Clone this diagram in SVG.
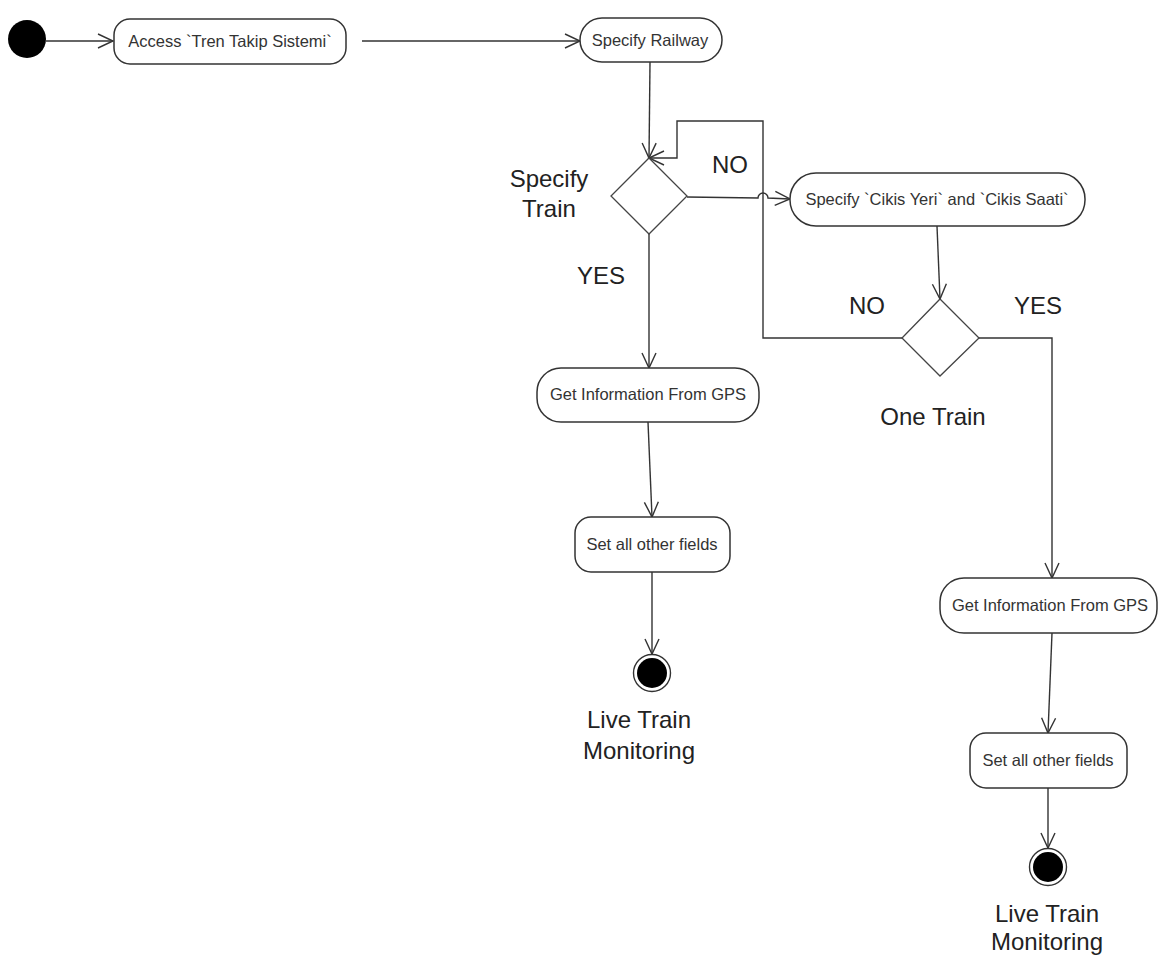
<svg xmlns="http://www.w3.org/2000/svg" width="1158" height="958" viewBox="0 0 1158 958">
<style>
.node{fill:#fff;stroke:#333;stroke-width:1.5}
.dia{fill:#fff;stroke:#444;stroke-width:1.3}
.t{font-family:"Liberation Sans",Arial,sans-serif;font-size:16.5px;fill:#333;text-anchor:middle}
.l{font-family:"Liberation Sans",Arial,sans-serif;font-size:24px;fill:#222;text-anchor:middle}
.c{fill:none;stroke:#333;stroke-width:1.4}
</style>
<defs>
<marker id="a" markerUnits="userSpaceOnUse" markerWidth="18" markerHeight="18" viewBox="0 0 18 18" refX="16" refY="9" orient="auto">
<path d="M1,2 L16,9 L1,16" fill="none" stroke="#333" stroke-width="1.4"/>
</marker>
</defs>
<rect width="1158" height="958" fill="#fff"/>
<g id="connectors">
<path class="c" d="M46,41 L113,41" marker-end="url(#a)"/>
<path class="c" d="M362,41 L580,41" marker-end="url(#a)"/>
<path class="c" d="M650,62 L649,158" marker-end="url(#a)"/>
<path class="c" d="M902,338 L763,338 L763,121 L677,121 L677,158 L649,158" marker-end="url(#a)"/>
<path class="c" d="M687,197 L758,198 A5,5 0 0 1 768,198 L790,199" marker-end="url(#a)"/>
<path class="c" d="M937,226 L940,299" marker-end="url(#a)"/>
<path class="c" d="M979,338 L1052,338 L1052,578" marker-end="url(#a)"/>
<path class="c" d="M649,234 L649,368" marker-end="url(#a)"/>
<path class="c" d="M648,422 L652,517" marker-end="url(#a)"/>
<path class="c" d="M652,572 L652,654" marker-end="url(#a)"/>
<path class="c" d="M1052,633 L1048,733" marker-end="url(#a)"/>
<path class="c" d="M1048,788 L1048,848" marker-end="url(#a)"/>
</g>
<g id="start"><circle cx="27" cy="39" r="19" fill="#000"/></g>
<g id="access"><rect class="node" x="114" y="19" width="232" height="45" rx="16"/><text class="t" x="230" y="47">Access `Tren Takip Sistemi`</text></g>
<g id="railway"><rect class="node" x="580" y="18" width="142" height="44" rx="22"/><text class="t" x="650" y="46">Specify Railway</text></g>
<g id="specifyTrain"><polygon class="dia" points="649,158 687,196 649,234 611,196"/><text class="l" x="549" y="187">Specify</text><text class="l" x="549" y="217">Train</text></g>
<g id="cikis"><rect class="node" x="790" y="173" width="295" height="53" rx="26"/><text class="t" x="937" y="205">Specify `Cikis Yeri` and `Cikis Saati`</text></g>
<g id="oneTrain"><polygon class="dia" points="940,299 979,338 940,376 902,338"/><text class="l" x="933" y="425">One Train</text></g>
<g id="gps1"><rect class="node" x="537" y="368" width="222" height="54" rx="24"/><text class="t" x="648" y="400">Get Information From GPS</text></g>
<g id="set1"><rect class="node" x="575" y="517" width="155" height="55" rx="16"/><text class="t" x="652" y="550">Set all other fields</text></g>
<g id="end1"><circle cx="652" cy="673" r="18.5" fill="#fff" stroke="#333" stroke-width="1.4"/><circle cx="652" cy="673" r="15" fill="#000"/><text class="l" x="639" y="728">Live Train</text><text class="l" x="639" y="759">Monitoring</text></g>
<g id="gps2"><rect class="node" x="940" y="578" width="217" height="55" rx="24"/><text class="t" x="1050" y="611">Get Information From GPS</text></g>
<g id="set2"><rect class="node" x="970" y="733" width="157" height="55" rx="16"/><text class="t" x="1048" y="766">Set all other fields</text></g>
<g id="end2"><circle cx="1048" cy="867" r="18.5" fill="#fff" stroke="#333" stroke-width="1.4"/><circle cx="1048" cy="867" r="15" fill="#000"/><text class="l" x="1047" y="922">Live Train</text><text class="l" x="1047" y="950">Monitoring</text></g>
<g id="labels">
<text class="l" x="730" y="173">NO</text>
<text class="l" x="601" y="284">YES</text>
<text class="l" x="867" y="314">NO</text>
<text class="l" x="1038" y="314">YES</text>
</g>
</svg>
